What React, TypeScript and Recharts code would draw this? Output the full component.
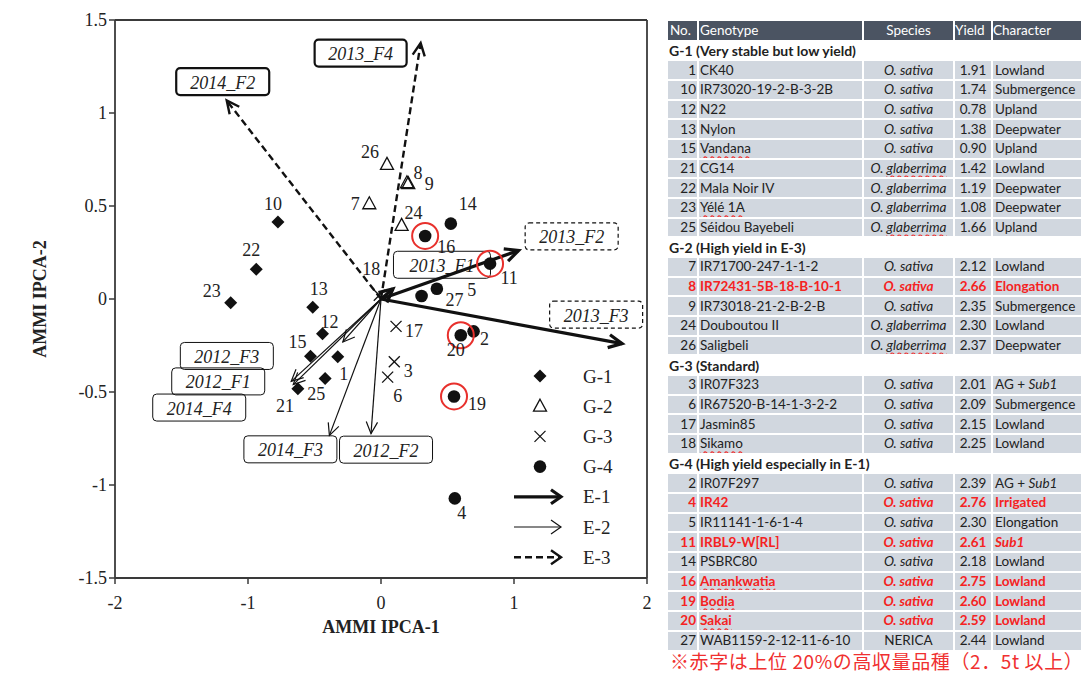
import React from 'react';
import { ScatterChart, Scatter, XAxis, YAxis, ReferenceLine } from 'recharts';

const serif = '"Liberation Serif", "DejaVu Serif", serif';
const sans = 'Lato, "Noto Sans", sans-serif';

// genotype scores (AMMI IPCA-1, IPCA-2)
const g1Scores = [
  { id: 1, x: -0.325, y: -0.31 },
  { id: 10, x: -0.775, y: 0.414 },
  { id: 12, x: -0.44, y: -0.187 },
  { id: 13, x: -0.513, y: -0.045 },
  { id: 15, x: -0.53, y: -0.308 },
  { id: 21, x: -0.625, y: -0.482 },
  { id: 22, x: -0.938, y: 0.16 },
  { id: 23, x: -1.13, y: -0.02 },
  { id: 25, x: -0.42, y: -0.428 },
];
const g2Scores = [
  { id: 7, x: -0.088, y: 0.512 },
  { id: 8, x: 0.195, y: 0.625 },
  { id: 9, x: 0.205, y: 0.62 },
  { id: 24, x: 0.155, y: 0.396 },
  { id: 26, x: 0.045, y: 0.724 },
];
const g3Scores = [
  { id: 3, x: 0.1, y: -0.337 },
  { id: 6, x: 0.05, y: -0.42 },
  { id: 17, x: 0.113, y: -0.147 },
  { id: 18, x: -0.013, y: 0.02 },
];
const g4Scores = [
  { id: 2, x: 0.696, y: -0.174 },
  { id: 4, x: 0.555, y: -1.072 },
  { id: 5, x: 0.42, y: 0.055 },
  { id: 11, x: 0.82, y: 0.19 },
  { id: 14, x: 0.525, y: 0.405 },
  { id: 16, x: 0.332, y: 0.339 },
  { id: 19, x: 0.549, y: -0.524 },
  { id: 20, x: 0.6, y: -0.195 },
  { id: 27, x: 0.305, y: 0.016 },
];
const ringedIds = [11, 16, 19, 20];

// environment vectors
const e1Vectors = [
  { name: '2013_F1', x: 0.09, y: 0.055 },
  { name: '2013_F2', x: 1.035, y: 0.261 },
  { name: '2013_F3', x: 1.813, y: -0.24 },
];
const e2Vectors = [
  { name: '2012_F1', x: -0.675, y: -0.443 },
  { name: '2012_F2', x: -0.075, y: -0.724 },
  { name: '2012_F3', x: -0.287, y: -0.231 },
  { name: '2014_F3', x: -0.388, y: -0.733 },
  { name: '2014_F4', x: -0.66, y: -0.46 },
];
const e3Vectors = [
  { name: '2013_F4', x: 0.298, y: 1.376 },
  { name: '2014_F2', x: -1.16, y: 1.067 },
];

const xTicks = [-2, -1, 0, 1, 2];
const yTicks = [-1.5, -1, -0.5, 0, 0.5, 1, 1.5];

// table
const groupTitles = [
  'G-1 (Very stable but low yield)',
  'G-2 (High yield in E-3)',
  'G-3 (Standard)',
  'G-4 (High yield especially in E-1)',
];
const genotypes = [
  { g: 0, no: 1, name: 'CK40', species: 'O. sativa', yld: '1.91', ch: 'Lowland' },
  { g: 0, no: 10, name: 'IR73020-19-2-B-3-2B', species: 'O. sativa', yld: '1.74', ch: 'Submergence' },
  { g: 0, no: 12, name: 'N22', species: 'O. sativa', yld: '0.78', ch: 'Upland' },
  { g: 0, no: 13, name: 'Nylon', species: 'O. sativa', yld: '1.38', ch: 'Deepwater' },
  { g: 0, no: 15, name: 'Vandana', species: 'O. sativa', yld: '0.90', ch: 'Upland' },
  { g: 0, no: 21, name: 'CG14', species: 'O. glaberrima', yld: '1.42', ch: 'Lowland' },
  { g: 0, no: 22, name: 'Mala Noir IV', species: 'O. glaberrima', yld: '1.19', ch: 'Deepwater' },
  { g: 0, no: 23, name: 'Yélé 1A', species: 'O. glaberrima', yld: '1.08', ch: 'Deepwater' },
  { g: 0, no: 25, name: 'Séidou Bayebeli', species: 'O. glaberrima', yld: '1.66', ch: 'Upland' },
  { g: 1, no: 7, name: 'IR71700-247-1-1-2', species: 'O. sativa', yld: '2.12', ch: 'Lowland' },
  { g: 1, no: 8, name: 'IR72431-5B-18-B-10-1', species: 'O. sativa', yld: '2.66', ch: 'Elongation' },
  { g: 1, no: 9, name: 'IR73018-21-2-B-2-B', species: 'O. sativa', yld: '2.35', ch: 'Submergence' },
  { g: 1, no: 24, name: 'Douboutou II', species: 'O. glaberrima', yld: '2.30', ch: 'Lowland' },
  { g: 1, no: 26, name: 'Saligbeli', species: 'O. glaberrima', yld: '2.37', ch: 'Deepwater' },
  { g: 2, no: 3, name: 'IR07F323', species: 'O. sativa', yld: '2.01', ch: 'AG + Sub1' },
  { g: 2, no: 6, name: 'IR67520-B-14-1-3-2-2', species: 'O. sativa', yld: '2.09', ch: 'Submergence' },
  { g: 2, no: 17, name: 'Jasmin85', species: 'O. sativa', yld: '2.15', ch: 'Lowland' },
  { g: 2, no: 18, name: 'Sikamo', species: 'O. sativa', yld: '2.25', ch: 'Lowland' },
  { g: 3, no: 2, name: 'IR07F297', species: 'O. sativa', yld: '2.39', ch: 'AG + Sub1' },
  { g: 3, no: 4, name: 'IR42', species: 'O. sativa', yld: '2.76', ch: 'Irrigated' },
  { g: 3, no: 5, name: 'IR11141-1-6-1-4', species: 'O. sativa', yld: '2.30', ch: 'Elongation' },
  { g: 3, no: 11, name: 'IRBL9-W[RL]', species: 'O. sativa', yld: '2.61', ch: 'Sub1' },
  { g: 3, no: 14, name: 'PSBRC80', species: 'O. sativa', yld: '2.18', ch: 'Lowland' },
  { g: 3, no: 16, name: 'Amankwatia', species: 'O. sativa', yld: '2.75', ch: 'Lowland' },
  { g: 3, no: 19, name: 'Bodia', species: 'O. sativa', yld: '2.60', ch: 'Lowland' },
  { g: 3, no: 20, name: 'Sakai', species: 'O. sativa', yld: '2.59', ch: 'Lowland' },
  { g: 3, no: 27, name: 'WAB1159-2-12-11-6-10', species: 'NERICA', yld: '2.44', ch: 'Lowland' },
];
const footNote = '※赤字は上位 20%の高収量品種（2．5t 以上）';

// layout: label offsets in px
const pointLabelOffset: Record<number, [number, number]> = {
  1: [6, 17], 2: [11, 8], 3: [14, 9], 4: [7, 15], 5: [35, 1], 6: [10, 19],
  7: [-14, 0], 8: [11, -10], 9: [21, 0], 10: [-5, -18], 11: [19, 14], 12: [7, -12],
  13: [6, -18], 14: [17, -20], 15: [-13, -14], 16: [21, 11], 17: [18, 5], 18: [-8, -26],
  19: [23, 8], 20: [-5, 15], 21: [-13, 17], 22: [-5, -19], 23: [-19, -12], 24: [12, -12],
  25: [-9, 15], 26: [-17, -12], 27: [33, 4],
};
const envLabelOffset: Record<string, [number, number]> = {
  '2013_F1': [49, -24], '2013_F2': [53, -14], '2013_F3': [-26, -29],
  '2012_F1': [-73, 0], '2012_F2': [15, 16], '2012_F3': [-116, 14], '2014_F3': [-39, 14], '2014_F4': [-94, 23],
  '2013_F4': [-60, 10], '2014_F2': [-4, -19],
};
const spellMarked = ['15n', '23n', '18n', '16n', '19n', '20n', '21s', '25s', '26s'];

const ink = '#111';

function Diamond({ cx, cy }: any) {
  return <polygon points={`${cx},${cy - 6.5} ${cx + 6.5},${cy} ${cx},${cy + 6.5} ${cx - 6.5},${cy}`} fill={ink} />;
}
function Triangle({ cx, cy }: any) {
  return <polygon points={`${cx},${cy - 7} ${cx + 6.5},${cy + 5} ${cx - 6.5},${cy + 5}`} fill="none" stroke={ink} strokeWidth={1.3} />;
}
function Cross({ cx, cy }: any) {
  const s = 5.5;
  return (
    <g stroke={ink} strokeWidth={1.3}>
      <line x1={cx - s} y1={cy - s} x2={cx + s} y2={cy + s} />
      <line x1={cx - s} y1={cy + s} x2={cx + s} y2={cy - s} />
    </g>
  );
}
function Dot({ cx, cy }: any) {
  return <circle cx={cx} cy={cy} r={6.3} fill={ink} />;
}

function pointShape(Marker: any) {
  return (p: any) => {
    const { cx, cy, payload } = p;
    if (cx == null || cy == null) return <g />;
    const [dx, dy] = pointLabelOffset[payload.id] || [10, 0];
    return (
      <g>
        <Marker cx={cx} cy={cy} />
        {ringedIds.includes(payload.id) && <circle cx={cx} cy={cy} r={13} fill="none" stroke="#e8302c" strokeWidth={2} />}
        <text x={cx + dx} y={cy + dy} textAnchor="middle" dominantBaseline="central" fontFamily={serif} fontSize={18} fill="#222">
          {payload.id}
        </text>
      </g>
    );
  };
}

const envStyle: any = {
  E1: { w: 3.2, dash: undefined, head: 15 },
  E2: { w: 1.2, dash: undefined, head: 13 },
  E3: { w: 2.4, dash: '7 4', head: 14 },
};
const envBox: Record<string, { w: number; sw: number; dash?: string }> = {
  '2013_F1': { w: 97, sw: 1 },
  '2013_F2': { w: 93, sw: 1.2, dash: '4 3' },
  '2013_F3': { w: 93, sw: 1.2, dash: '4 3' },
  '2013_F4': { w: 92, sw: 2.2 },
  '2014_F2': { w: 93, sw: 2.2 },
};

function arrowShape(kind: string, name: string) {
  return (p: any) => {
    const { x1, y1, x2, y2 } = p;
    if ([x1, y1, x2, y2].some((v) => v == null || isNaN(v))) return <g />;
    const st = envStyle[kind];
    const ang = Math.atan2(y2 - y1, x2 - x1);
    const a = 0.45;
    const hx1 = x2 - st.head * Math.cos(ang - a);
    const hy1 = y2 - st.head * Math.sin(ang - a);
    const hx2 = x2 - st.head * Math.cos(ang + a);
    const hy2 = y2 - st.head * Math.sin(ang + a);
    const [dx, dy] = envLabelOffset[name];
    const box = envBox[name] || { w: 93, sw: 1 };
    const bx = x2 + dx;
    const by = y2 + dy;
    return (
      <g>
        <line x1={x1} y1={y1} x2={x2} y2={y2} stroke={ink} strokeWidth={st.w} strokeDasharray={st.dash} />
        <polyline points={`${hx1},${hy1} ${x2},${y2} ${hx2},${hy2}`} fill="none" stroke={ink} strokeWidth={st.w} />
        <rect x={bx - box.w / 2} y={by - 13.5} width={box.w} height={27} rx={4} fill="none" stroke={ink} strokeWidth={box.sw} strokeDasharray={box.dash} />
        <text x={bx} y={by + 1} textAnchor="middle" dominantBaseline="central" fontFamily={serif} fontStyle="italic" fontSize={18} fill="#222">
          {name}
        </text>
      </g>
    );
  };
}

function YTitle(props: any) {
  const vb = props.viewBox || { x: 55, y: 20, width: 60, height: 558 };
  const cx = 40;
  const cy = vb.y + vb.height / 2;
  return (
    <text x={cx} y={cy} transform={`rotate(-90 ${cx} ${cy})`} textAnchor="middle" dominantBaseline="central" fontFamily={serif} fontWeight="bold" fontSize={18} fill="#222">
      AMMI IPCA-2
    </text>
  );
}

function LegendBox() {
  const rows = ['G-1', 'G-2', 'G-3', 'G-4', 'E-1', 'E-2', 'E-3'];
  const markers = [Diamond, Triangle, Cross, Dot];
  return (
    <svg width={130} height={215} style={{ position: 'absolute', left: 505, top: 360 }}>
      {rows.map((r, i) => {
        const y = 16 + i * 30.2;
        let sym: any;
        if (i < 4) {
          const M = markers[i];
          sym = <M cx={35} cy={y} />;
        } else {
          const st = envStyle[['E1', 'E2', 'E3'][i - 4]];
          sym = (
            <g stroke={ink} strokeWidth={st.w} fill="none">
              <line x1={9} y1={y} x2={56} y2={y} strokeDasharray={st.dash} />
              <polyline points={`${46},${y - 7} ${56},${y} ${46},${y + 7}`} />
            </g>
          );
        }
        return (
          <g key={r}>
            {sym}
            <text x={78} y={y} dominantBaseline="central" fontFamily={serif} fontSize={19} fill="#222">{r}</text>
          </g>
        );
      })}
    </svg>
  );
}

const rowH = 19.68;
const cell: React.CSSProperties = {
  padding: 0,
  borderRight: '2px solid #fff',
  borderBottom: '2px solid #fff',
  whiteSpace: 'nowrap',
  overflow: 'hidden',
  lineHeight: '17px',
};

function mark(text: string, on: boolean) {
  return on ? <span style={{ textDecoration: 'underline wavy #e33', textUnderlineOffset: 2 }}>{text}</span> : text;
}

function Character({ ch }: { ch: string }) {
  if (!ch.includes('Sub1')) return <>{ch}</>;
  const pre = ch.replace('Sub1', '');
  return <>{pre}<i>Sub1</i></>;
}

function GenotypeTable() {
  const rows: any[] = [];
  groupTitles.forEach((t, gi) => {
    rows.push(
      <tr key={'g' + gi} style={{ height: rowH }}>
        <td colSpan={5} style={{ ...cell, fontWeight: 700, fontSize: 14, background: '#fff', paddingLeft: 1 }}>{t}</td>
      </tr>
    );
    genotypes.filter((r) => r.g === gi).forEach((r) => {
      const hi = parseFloat(r.yld) >= 2.5;
      const st: React.CSSProperties = { ...cell, background: '#d1d7df', color: hi ? '#f52222' : '#222', fontWeight: hi ? 700 : 400 };
      const isSp = r.species.startsWith('O.');
      rows.push(
        <tr key={r.no} style={{ height: rowH }}>
          <td style={{ ...st, textAlign: 'right', paddingRight: 1 }}>{r.no}</td>
          <td style={{ ...st, paddingLeft: 1 }}>{mark(r.name, spellMarked.includes(r.no + 'n'))}</td>
          <td style={{ ...st, textAlign: 'center', fontStyle: isSp ? 'italic' : 'normal' }}>
            {r.species.includes('glaberrima') ? <>O. {mark('glaberrima', spellMarked.includes(r.no + 's'))}</> : r.species}
          </td>
          <td style={{ ...st, textAlign: 'center' }}>{r.yld}</td>
          <td style={{ ...st, paddingLeft: 2 }}><Character ch={r.ch} /></td>
        </tr>
      );
    });
  });
  const hd: React.CSSProperties = { ...cell, background: '#4b5462', color: '#fff' };
  return (
    <table style={{ position: 'absolute', left: 668, top: 21, width: 414, borderCollapse: 'collapse', tableLayout: 'fixed', fontFamily: sans, fontSize: 13.5, color: '#222' }}>
      <colgroup>
        <col style={{ width: 30 }} />
        <col style={{ width: 165 }} />
        <col style={{ width: 91 }} />
        <col style={{ width: 38 }} />
        <col style={{ width: 90 }} />
      </colgroup>
      <tbody>
        <tr style={{ height: rowH }}>
          <td style={{ ...hd, paddingLeft: 2 }}>No.</td>
          <td style={{ ...hd, paddingLeft: 1 }}>Genotype</td>
          <td style={{ ...hd, textAlign: 'center' }}>Species</td>
          <td style={hd}>Yield</td>
          <td style={hd}>Character</td>
        </tr>
        {rows}
      </tbody>
    </table>
  );
}

export default function App() {
  const axisStroke = '#3a3a3a';
  const tick = { fontFamily: serif, fontSize: 18, fill: '#222' };
  const groups = [
    { data: g1Scores, M: Diamond },
    { data: g2Scores, M: Triangle },
    { data: g3Scores, M: Cross },
    { data: g4Scores, M: Dot },
  ];
  const vectors = [
    ...e2Vectors.map((v) => ({ ...v, kind: 'E2' })),
    ...e3Vectors.map((v) => ({ ...v, kind: 'E3' })),
    ...e1Vectors.map((v) => ({ ...v, kind: 'E1' })),
  ];
  return (
    <div style={{ position: 'absolute', left: 0, top: 0, width: 1088, height: 673, background: '#fff', overflow: 'hidden' }}>
      <ScatterChart width={660} height={673} margin={{ top: 20, right: 13, bottom: 55, left: 55 }} style={{ position: 'absolute', left: 0, top: 0 }}>
        <XAxis
          type="number"
          dataKey="x"
          domain={[-2, 2]}
          ticks={xTicks}
          allowDataOverflow
          height={40}
          tickMargin={12}
          tick={tick}
          stroke={axisStroke}
          axisLine={{ stroke: axisStroke, strokeWidth: 1.8 }}
          tickLine={{ stroke: axisStroke, strokeWidth: 1.5 }}
          label={{ value: 'AMMI IPCA-1', position: 'bottom', offset: 2, style: { fontFamily: serif, fontWeight: 'bold', fontSize: 18, fill: '#222' } }}
        />
        <YAxis
          type="number"
          dataKey="y"
          domain={[-1.5, 1.5]}
          ticks={yTicks}
          allowDataOverflow
          width={60}
          tick={tick}
          stroke={axisStroke}
          axisLine={{ stroke: axisStroke, strokeWidth: 1.8 }}
          tickLine={{ stroke: axisStroke, strokeWidth: 1.5 }}
          label={<YTitle />}
        />
        <ReferenceLine y={1.5} stroke={axisStroke} strokeWidth={1.8} ifOverflow="visible" />
        <ReferenceLine x={2} stroke={axisStroke} strokeWidth={1.8} ifOverflow="visible" />
        {vectors.map((v) => (
          <ReferenceLine
            key={v.name}
            segment={[{ x: 0, y: 0 }, { x: v.x, y: v.y }]}
            ifOverflow="visible"
            shape={arrowShape(v.kind, v.name)}
          />
        ))}
        {groups.map((g, i) => (
          <Scatter key={i} data={g.data} isAnimationActive={false} shape={pointShape(g.M)} />
        ))}
      </ScatterChart>
      <LegendBox />
      <GenotypeTable />
      <div style={{ position: 'absolute', left: 670, top: 650, fontFamily: '"Noto Sans CJK JP", sans-serif', fontSize: 19, letterSpacing: 0.6, color: '#f03030', whiteSpace: 'nowrap', lineHeight: '21px' }}>
        {footNote}
      </div>
    </div>
  );
}
